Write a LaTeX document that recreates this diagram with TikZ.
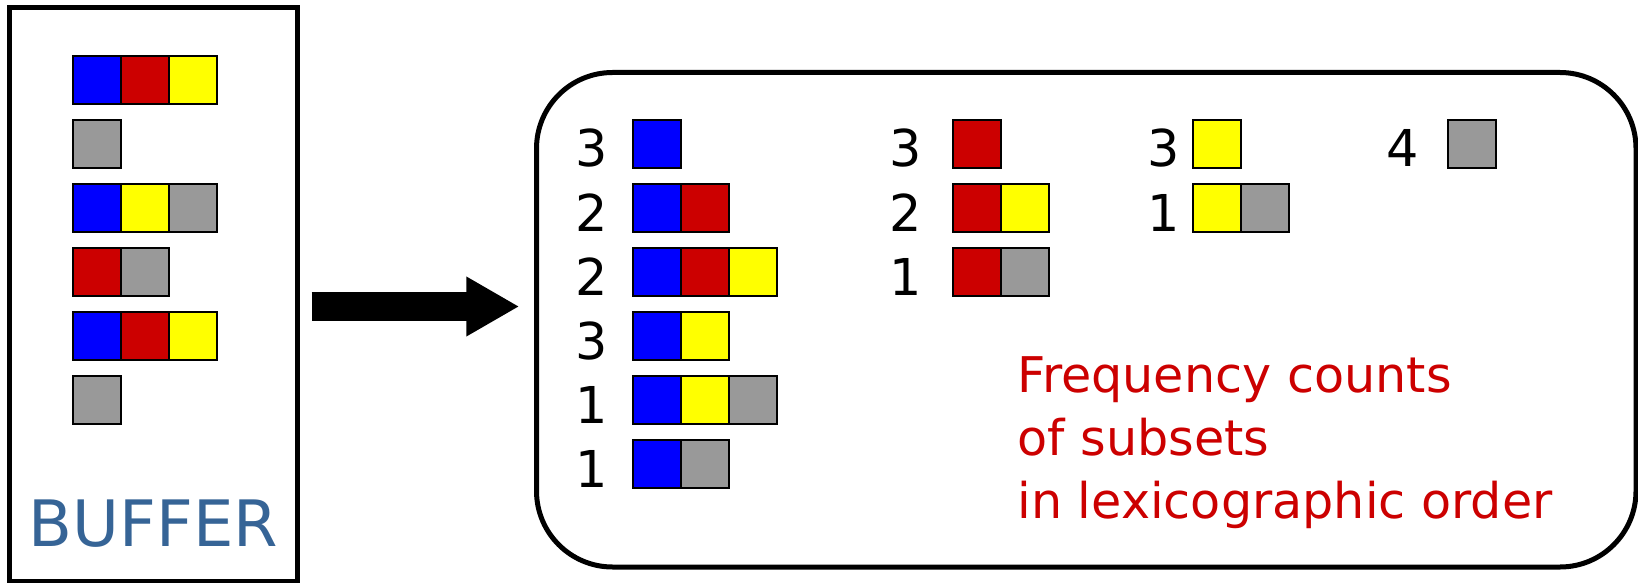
\documentclass[tikz,border=0pt]{standalone}
\usepackage{fontspec}
\setmainfont{DejaVu Sans}
\newfontfamily\redfont{DejaVu Sans}
\usetikzlibrary{arrows.meta}
\definecolor{cb}{RGB}{0,0,255}
\definecolor{cr}{RGB}{204,0,0}
\definecolor{cy}{RGB}{255,255,0}
\definecolor{cg}{RGB}{153,153,153}
\definecolor{bufblue}{RGB}{54,100,150}
\tikzset{
  sq/.style={draw=black, line width=0.8pt, minimum size=24pt, inner sep=0pt, outer sep=0pt},
  cnt/.style={anchor=base, inner sep=0pt, font=\fontsize{25.4}{30}\selectfont},
  note/.style={anchor=base west, inner sep=0pt, text=cr, font=\redfont\fontsize{24.6}{30}\selectfont},
  bufbox/.style={draw=black, line width=2.5pt, minimum width=144pt, minimum height=286.5pt, inner sep=0pt, outer sep=0pt},
  freqbox/.style={draw=black, line width=2.5pt, rounded corners=38pt, minimum width=549.75pt, minimum height=247.25pt, inner sep=0pt, outer sep=0pt},
  bigarrow/.style={line width=14.5pt, -{Triangle[length=26.5pt, width=28pt]}}
}
\newcommand{\sqrow}[4]{%
  \foreach \c [count=\i] in {#4} {
    \node[sq, fill=\c] (#1-\i) at ({#2+24+48*(\i-1)}, #3) {};
  }%
}
\begin{document}
\begin{tikzpicture}[x=0.5pt, y=-0.5pt]
\useasboundingbox (0,0) rectangle (1638,583);
% buffer
\node[bufbox] (buf) at (153,294.5) {};
\sqrow{b1}{73}{80}{cb,cr,cy}
\sqrow{b2}{73}{144}{cg}
\sqrow{b3}{73}{208}{cb,cy,cg}
\sqrow{b4}{73}{272}{cr,cg}
\sqrow{b5}{73}{336}{cb,cr,cy}
\sqrow{b6}{73}{400}{cg}
\node[anchor=base, inner sep=0pt, text=bufblue, font=\fontsize{32}{36}\selectfont] (buflabel) at (153.5,546) {BUFFER};
% frequency box
\node[freqbox] (freq) at (1086.25,319.75) {};
% arrow
\coordinate (a0) at (311.7,306.5);
\coordinate (a1) at (519.3,306.5);
\draw[bigarrow] (a0) -- (a1);
% column 1
\sqrow{s1}{633}{144}{cb}        \node[cnt] (n1) at (592,167) {3};
\sqrow{s2}{633}{208}{cb,cr}     \node[cnt] (n2) at (592,231) {2};
\sqrow{s3}{633}{272}{cb,cr,cy}  \node[cnt] (n3) at (592,295) {2};
\sqrow{s4}{633}{336}{cb,cy}     \node[cnt] (n4) at (592,359) {3};
\sqrow{s5}{633}{400}{cb,cy,cg}  \node[cnt] (n5) at (592,423) {1};
\sqrow{s6}{633}{464}{cb,cg}     \node[cnt] (n6) at (592,487) {1};
% column 2
\sqrow{s7}{953}{144}{cr}        \node[cnt] (n7) at (906,167) {3};
\sqrow{s8}{953}{208}{cr,cy}     \node[cnt] (n8) at (906,231) {2};
\sqrow{s9}{953}{272}{cr,cg}     \node[cnt] (n9) at (906,295) {1};
% column 3
\sqrow{s10}{1193}{144}{cy}      \node[cnt] (n10) at (1164,167) {3};
\sqrow{s11}{1193}{208}{cy,cg}   \node[cnt] (n11) at (1164,231) {1};
% column 4
\sqrow{s12}{1448}{144}{cg}      \node[cnt] (n12) at (1403,167) {4};
% note
\node[note] (t1) at (1017,392) {Frequency counts};
\node[note] (t2) at (1017,455) {of subsets};
\node[note] (t3) at (1017,518) {in lexicographic order};
\end{tikzpicture}
\end{document}
